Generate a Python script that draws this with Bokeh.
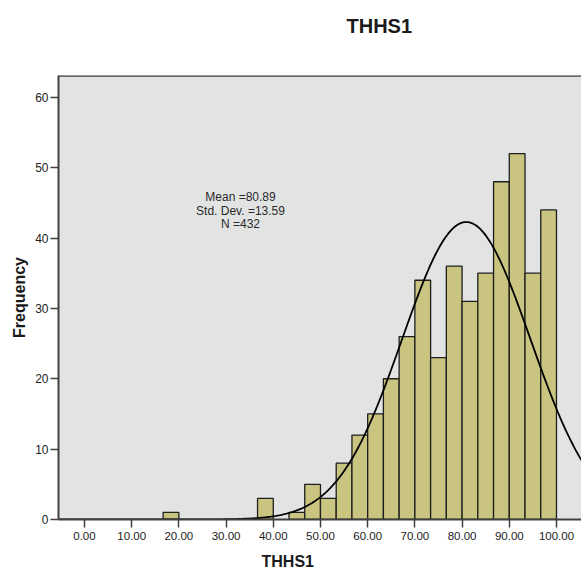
import numpy as np
from bokeh.plotting import figure
from bokeh.models import Range1d, FixedTicker, Label, Span, ColumnDataSource, NumeralTickFormatter, Title
from bokeh.embed import file_html
from bokeh.resources import INLINE

# ---- data ----
bin_width = 10.0 / 3.0
bin_left = [16.667, 36.667, 43.333, 46.667, 50.0, 53.333, 56.667, 60.0, 63.333,
            66.667, 70.0, 73.333, 76.667, 80.0, 83.333, 86.667, 90.0, 93.333, 96.667]
counts = [1, 3, 1, 5, 3, 8, 12, 15, 20, 26, 34, 23, 36, 31, 35, 48, 52, 35, 44]
mean_val = 80.89
std_val = 13.59
n_val = 432
x_ticks = [0, 10, 20, 30, 40, 50, 60, 70, 80, 90, 100]
y_ticks = [0, 10, 20, 30, 40, 50, 60]
title_text = "THHS1"
x_label = "THHS1"
y_label = "Frequency"
stats_lines = ["Mean =80.89", "Std. Dev. =13.59", "N =432"]

FONT = "Liberation Sans"
BG = "#e2e4e4"
BAR = "#c9c47f"
AX = "#404040"

x0, x1 = -5.5, 105.3
y0, y1 = 0, 63.1

p = figure(width=581, height=577, output_backend="svg", toolbar_location=None,
           x_range=Range1d(x0, x1), y_range=Range1d(y0, y1),
           min_border_left=58, min_border_right=0, min_border_top=75, min_border_bottom=57)
p.background_fill_color = BG
p.border_fill_color = "white"
p.outline_line_color = None
p.grid.visible = False

src = ColumnDataSource(dict(left=bin_left,
                            right=[b + bin_width for b in bin_left],
                            top=counts, bottom=[0] * len(counts)))
p.quad(left="left", right="right", top="top", bottom="bottom", source=src,
       fill_color=BAR, line_color="#1e1e1e", line_width=1.3)

xs = np.linspace(x0, x1 + 2, 400)
ys = n_val * bin_width / (std_val * np.sqrt(2 * np.pi)) * np.exp(-0.5 * ((xs - mean_val) / std_val) ** 2)
p.line(xs, ys, line_color="black", line_width=1.8)

# top border
p.add_layout(Span(location=y1, dimension="width", line_color=AX, line_width=2.5))

for ax in (p.xaxis[0], p.yaxis[0]):
    ax.axis_line_color = AX
    ax.axis_line_width = 2
    ax.major_tick_line_color = AX
    ax.major_tick_line_width = 1.5
    ax.major_tick_in = 0
    ax.major_tick_out = 8
    ax.minor_tick_line_color = None
    ax.major_label_text_font = FONT
    ax.major_label_text_font_size = "11.5px"
    ax.major_label_text_color = "#222222"
    ax.major_label_standoff = 4

p.xaxis.ticker = FixedTicker(ticks=x_ticks)
p.xaxis.formatter = NumeralTickFormatter(format="0.00")
p.yaxis.ticker = FixedTicker(ticks=y_ticks)
p.yaxis.major_label_standoff = 2
p.yaxis.major_label_text_font_size = "12px"

# real title, with a spacer title between it and the frame
p.title = Title(text=title_text, align="left", offset=288, text_font=FONT,
                text_font_size="20px", text_font_style="bold", text_color="#1a1a1a")
p.add_layout(Title(text=" ", text_font_size="20px", standoff=10), "above")

# x-axis label as a below title
p.add_layout(Title(text=x_label, align="left", offset=203, text_font=FONT,
                   text_font_size="16px", text_font_style="bold", text_color="#1a1a1a",
                   standoff=16), "below")
# y-axis label as a left title
p.add_layout(Title(text=y_label, align="center", text_font=FONT,
                   text_font_size="16px", text_font_style="bold", text_color="#1a1a1a",
                   standoff=10), "left")

def px_to_x(px):
    return x0 + (px - 58) / (581 - 58) * (x1 - x0)

def py_to_y(py):
    return y0 + (520 - py) / (520 - 75) * (y1 - y0)

for s, py in zip(stats_lines, [197, 211, 224]):
    p.add_layout(Label(x=px_to_x(240), y=py_to_y(py), text=s, text_font=FONT,
                       text_font_size="12px", text_align="center", text_baseline="middle",
                       text_color="#2a2a2a"))

open("out.html", "w").write(file_html(p, INLINE))
